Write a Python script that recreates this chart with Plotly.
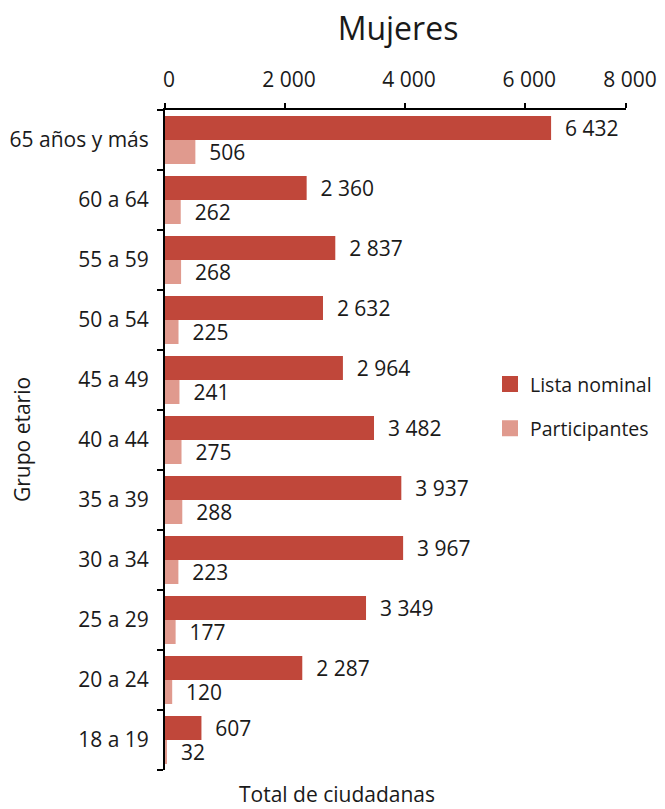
import plotly.graph_objects as go

categories = ["18 a 19", "20 a 24", "25 a 29", "30 a 34", "35 a 39", "40 a 44",
              "45 a 49", "50 a 54", "55 a 59", "60 a 64", "65 años y más"]
lista_nominal = [607, 2287, 3349, 3967, 3937, 3482, 2964, 2632, 2837, 2360, 6432]
participantes = [32, 120, 177, 223, 288, 275, 241, 225, 268, 262, 506]
# the drawn axis stops a little short of 8 000 in the source; its end carries the "8 000" label
X_MAX = 7680
x_tickvals = [0, 2000, 4000, 6000, X_MAX]
x_ticktext = ["0", "2 000", "4 000", "6 000", "8 000"]

C_LISTA = "#C0473A"
C_PART = "#E09A8E"
FONT = "Open Sans"
TXT = "#1a1a1a"
FS = 21

fig = go.Figure()
fig.add_trace(go.Bar(
    y=categories, x=participantes, orientation="h", name="Participantes",
    marker=dict(color=C_PART, line=dict(width=0)),
    texttemplate="\u00a0\u00a0%{x:,}", textposition="outside", constraintext="none",
    cliponaxis=False, textfont=dict(size=FS, color=TXT, family=FONT), showlegend=False,
))
fig.add_trace(go.Bar(
    y=categories, x=lista_nominal, orientation="h", name="Lista nominal",
    marker=dict(color=C_LISTA, line=dict(width=0)),
    texttemplate="\u00a0\u00a0%{x:,}", textposition="outside", constraintext="none",
    cliponaxis=False, textfont=dict(size=FS, color=TXT, family=FONT), showlegend=False,
))
# legend entries
for name, col, grp in [("Lista nominal", C_LISTA, "a"), ("Participantes", C_PART, "b")]:
    fig.add_trace(go.Scatter(
        x=[None], y=[None], mode="markers", name=name, legendgroup=grp,
        marker=dict(symbol="square", size=16, color=col),
    ))

W, H = 657, 801  # page body has an 8px default margin
fig.update_layout(
    width=W, height=H,
    margin=dict(l=157, r=39, t=102, b=39, autoexpand=False),
    paper_bgcolor="white", plot_bgcolor="white",
    font=dict(family=FONT, size=FS, color=TXT),
    separators=", ",
    barmode="group", bargap=0.2, bargroupgap=0,
    title=dict(text="Mujeres", x=(390 - 157) / 461, xref="paper", xanchor="center",
               y=1 - 21 / H, yref="container", yanchor="middle",
               font=dict(size=32, family=FONT, color=TXT)),
    xaxis=dict(side="top", range=[0, X_MAX], tickvals=x_tickvals, ticktext=x_ticktext,
               showline=True, linecolor="black", linewidth=2, automargin=False,
               ticks="outside", ticklen=5, tickwidth=2, tickcolor="black",
               showgrid=False, zeroline=False, ticklabelstandoff=8, ticklabelshift=4,
               tickfont=dict(size=FS, color=TXT)),
    yaxis=dict(categoryorder="array", categoryarray=categories,
               range=[-0.5, 10.5], automargin=False,
               showline=True, linecolor="black", linewidth=2,
               ticks="outside", tickson="boundaries", ticklen=6, tickwidth=2,
               tickcolor="black", showgrid=False, zeroline=False,
               ticklabelstandoff=10, tickfont=dict(size=FS, color=TXT)),
    legend=dict(x=0.705, y=0.551, xanchor="left", yanchor="middle",
                traceorder="grouped", tracegroupgap=16,
                font=dict(size=19.5, color=TXT), bgcolor="rgba(0,0,0,0)",
                itemsizing="trace"),
    annotations=[
        dict(text="Grupo etario", textangle=-90, xref="paper", yref="paper",
             x=(14 - 157) / 461, y=0.5, xanchor="center", yanchor="middle",
             showarrow=False, font=dict(size=FS, color=TXT)),
        dict(text="Total de ciudadanas", xref="paper", yref="paper",
             x=(329 - 157) / 461, y=0, yshift=-24, xanchor="center", yanchor="middle",
             showarrow=False, font=dict(size=FS, color=TXT)),
    ],
)

fig.write_html("out.html")
